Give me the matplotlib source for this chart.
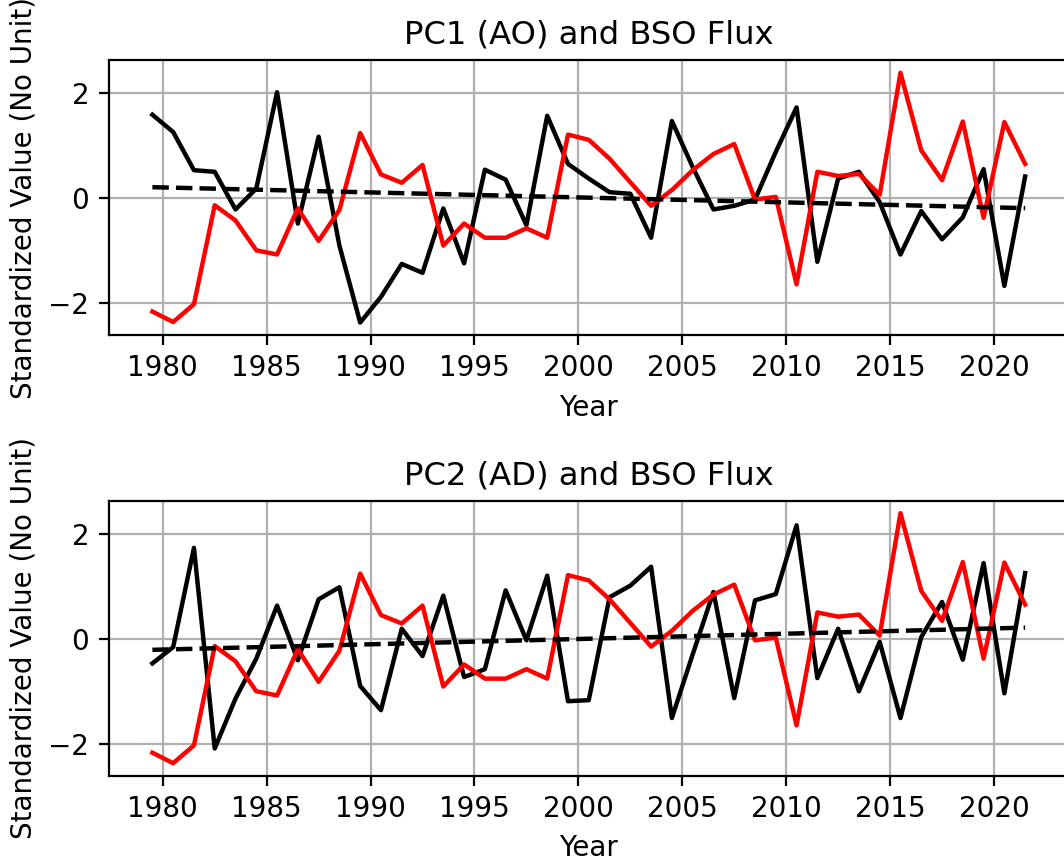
import numpy as np
import matplotlib
matplotlib.use("Agg")
import matplotlib.pyplot as plt

years = np.arange(1979, 2022) + 0.5

pc1 = [1.59, 1.26, 0.53, 0.50, -0.22, 0.18, 2.02, -0.49, 1.17, -0.91,
       -2.38, -1.89, -1.26, -1.43, -0.20, -1.25, 0.54, 0.35, -0.52, 1.57,
       0.65, 0.37, 0.11, 0.08, -0.76, 1.47, 0.59, -0.22, -0.15, -0.03,
       0.88, 1.73, -1.22, 0.37, 0.50, -0.08, -1.08, -0.25, -0.79, -0.37,
       0.55, -1.68, 0.41]

pc2 = [-0.47, -0.16, 1.73, -2.09, -1.14, -0.38, 0.63, -0.41, 0.75, 0.98,
       -0.90, -1.36, 0.19, -0.33, 0.82, -0.73, -0.58, 0.92, -0.03, 1.20,
       -1.19, -1.17, 0.79, 1.01, 1.37, -1.51, -0.30, 0.89, -1.13, 0.73,
       0.85, 2.16, -0.75, 0.19, -1.00, -0.06, -1.51, 0.03, 0.70, -0.40,
       1.44, -1.04, 1.25]

bso = [-2.17, -2.37, -2.03, -0.14, -0.43, -1.00, -1.08, -0.20, -0.82, -0.23,
       1.24, 0.45, 0.29, 0.63, -0.91, -0.49, -0.76, -0.76, -0.58, -0.76,
       1.21, 1.11, 0.75, 0.30, -0.15, 0.15, 0.53, 0.84, 1.03, -0.03,
       0.02, -1.65, 0.50, 0.42, 0.46, 0.06, 2.39, 0.91, 0.34, 1.46,
       -0.38, 1.45, 0.65]

titles = ["PC1 (AO) and BSO Flux", "PC2 (AD) and BSO Flux"]
pcs = [pc1, pc2]
xticks = [1980, 1985, 1990, 1995, 2000, 2005, 2010, 2015, 2020]

fig = plt.figure(figsize=(5.32, 4.28), dpi=200)
rects = [[0.1022, 0.6086, 0.9023, 0.3209], [0.1022, 0.0938, 0.9023, 0.3213]]

for rect, pc, title in zip(rects, pcs, titles):
    ax = fig.add_axes(rect)
    pc = np.array(pc)
    ax.plot(years, pc, color='black', lw=1.6)
    ax.plot(years, bso, color='red', lw=1.6)
    coef = np.polyfit(years, pc, 1)
    ax.plot(years, np.polyval(coef, years), 'k--', lw=1.6)
    ax.set_title(title, fontsize=11.6)
    ax.set_xlabel('Year', fontsize=10)
    ax.set_ylabel('Standardized Value (No Unit)', fontsize=10)
    ax.set_xticks(xticks)
    ax.grid(True)

fig.savefig('out.png', dpi=200)
